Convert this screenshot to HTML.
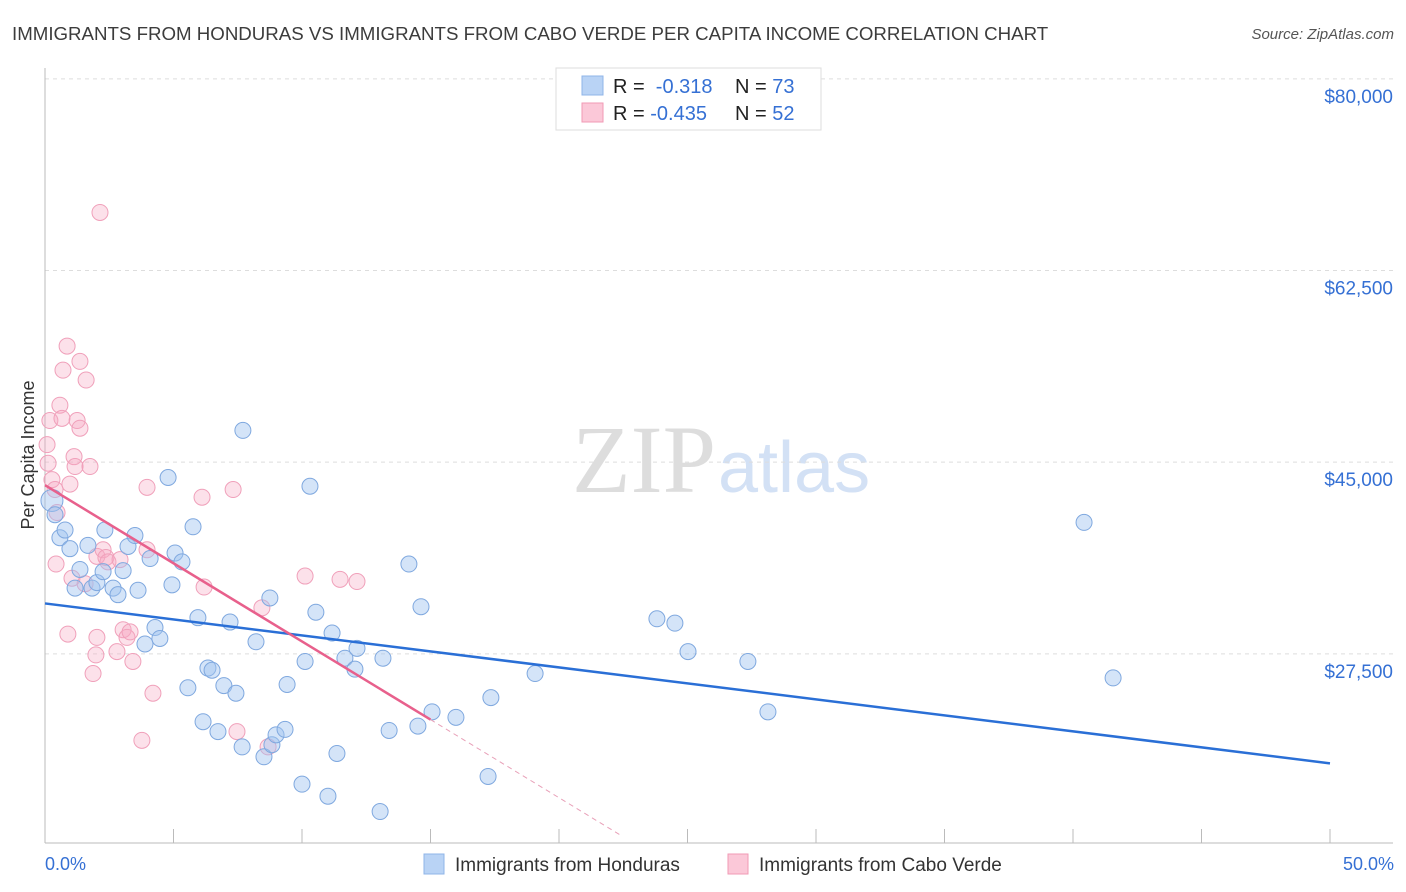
<!DOCTYPE html>
<html><head><meta charset="utf-8"><style>
body{margin:0;background:#fff;font-family:"Liberation Sans",sans-serif;}
svg{display:block}
</style></head><body>
<svg id="c" width="1406" height="892">
<text x="12" y="40" font-size="18.7" fill="#3c3c3c">IMMIGRANTS FROM HONDURAS VS IMMIGRANTS FROM CABO VERDE PER CAPITA INCOME CORRELATION CHART</text>
<text x="1394" y="39" font-size="15" fill="#555" font-style="italic" text-anchor="end">Source: ZipAtlas.com</text>
<text x="716" y="492" font-size="96" fill="#ddd" text-anchor="end" font-family="Liberation Serif,serif">ZIP</text>
<text x="718" y="492" font-size="72" fill="#d3e1f5">atlas</text>
<text transform="translate(34,455) rotate(-90)" font-size="18" fill="#333" text-anchor="middle">Per Capita Income</text>
<g id="grid"></g><g id="pts"></g><g id="lines"></g>
<g>
<rect x="556" y="68" width="265" height="62" fill="#fff" stroke="#ddd"/>
<rect x="582" y="76" width="21" height="19" fill="#b9d3f5" stroke="#8fb4e8"/>
<rect x="582" y="103" width="21" height="19" fill="#fbc8d8" stroke="#f09ab5"/>
<text x="613" y="93" font-size="20" fill="#222">R = <tspan fill="#3570d4">&#160;-0.318</tspan><tspan x="735">N = </tspan><tspan fill="#3570d4">73</tspan></text>
<text x="613" y="120" font-size="20" fill="#222">R = <tspan fill="#3570d4">-0.435</tspan><tspan x="735">N = </tspan><tspan fill="#3570d4">52</tspan></text>
</g>
<g>
<rect x="424" y="854" width="20" height="20" fill="#b9d3f5" stroke="#8fb4e8"/>
<text x="455" y="871" font-size="19" fill="#333">Immigrants from Honduras</text>
<rect x="728" y="854" width="20" height="20" fill="#fbc8d8" stroke="#f09ab5"/>
<text x="759" y="871" font-size="19" fill="#333">Immigrants from Cabo Verde</text>
</g>
<text x="45" y="870" font-size="18" fill="#3570d4">0.0%</text>
<text x="1394" y="870" font-size="18" fill="#3570d4" text-anchor="end">50.0%</text>
</svg>
<script>
const yTicks=[27500,45000,62500,80000];
const yTickLabels=["$27,500","$45,000","$62,500","$80,000"];
const xTicks=[0,5,10,15,20,25,30,35,40,45,50];
const blueX=[0.27,0.39,0.58,0.78,0.97,1.36,1.17,1.67,1.83,2.02,2.26,2.33,2.65,2.84,3.04,3.23,3.5,3.62,3.89,4.09,4.28,4.47,4.79,4.94,5.06,5.33,5.56,5.76,5.95,6.15,6.34,6.5,6.73,6.96,7.2,7.43,7.67,7.7,8.21,8.52,8.75,8.83,8.99,9.34,9.42,10.0,10.31,10.54,10.12,11.01,11.17,11.36,11.67,12.06,12.14,13.04,13.15,13.39,14.16,14.51,14.63,15.06,15.99,17.24,17.35,19.07,23.81,24.51,25.02,27.35,28.13,40.43,41.56];
const blueY=[41.5,40.2,38.1,38.8,37.1,35.2,33.5,37.4,33.5,34.0,35.0,38.8,33.5,32.9,35.1,37.3,38.3,33.3,28.4,36.2,29.9,28.9,43.6,33.8,36.7,35.9,24.4,39.1,30.8,21.3,26.2,26.0,20.4,24.6,30.4,23.9,19.0,47.9,28.6,18.1,32.6,19.2,20.1,20.6,24.7,15.6,42.8,31.3,26.8,14.5,29.4,18.4,27.1,26.1,28.0,13.1,27.1,20.5,35.7,20.9,31.8,22.2,21.7,16.3,23.5,25.7,30.7,30.3,27.7,26.8,22.2,39.5,25.3];
const pinkX=[0.08,0.12,0.19,0.27,0.39,0.47,0.43,0.58,0.66,0.7,0.86,0.89,0.97,1.05,1.13,1.17,1.25,1.36,1.36,1.56,1.6,1.75,1.87,1.98,2.02,2.02,2.14,2.26,2.37,2.45,2.8,3.04,3.19,3.31,3.42,3.77,3.97,3.97,4.2,6.11,6.19,7.32,7.47,8.44,8.68,10.12,11.48,12.14,2.92];
const pinkY=[46.6,44.9,48.8,43.4,42.5,40.4,35.7,50.2,49.0,53.4,55.6,29.3,43.0,34.4,45.5,44.6,48.8,48.1,54.2,33.9,52.5,44.6,25.7,27.4,29.0,36.4,67.8,37.0,36.3,35.9,27.7,29.7,29.0,29.5,26.8,19.6,42.7,37.0,23.9,41.8,33.6,42.5,20.4,31.7,19.0,34.6,34.3,34.1,36.1];
const blueTrend=[32.1,17.5];
const pinkTrend=[42.9,-1.427];
const X=v=>45+v*25.7, Y=k=>955-k*10.952;
const NS="http://www.w3.org/2000/svg";
function mk(p,t,a){const e=document.createElementNS(NS,t);for(const k in a)e.setAttribute(k,a[k]);p.appendChild(e);return e;}
const grid=document.getElementById('grid');
yTicks.forEach((v,i)=>{
 const l=mk(grid,'line',{x1:45,x2:1393,y1:Y(v/1000),y2:Y(v/1000),stroke:'#ddd','stroke-dasharray':'4,4'});
 
 
 const t=mk(grid,'text',{x:1393,y:Y(v/1000)+24,'font-size':19,fill:'#3570d4','text-anchor':'end'});
 t.textContent=yTickLabels[i];
 
 
});
const ax=mk(grid,'line',{x1:45,x2:45,y1:68,y2:843,stroke:'#bbb'});


const bx=mk(grid,'line',{x1:45,x2:1393,y1:843,y2:843,stroke:'#bbb'});


xTicks.forEach(v=>{
 const t=mk(grid,'line',{x1:X(v),x2:X(v),y1:829,y2:843,stroke:'#bbb'});
 
 
});
const pts=document.getElementById('pts');
pinkX.forEach((x,i)=>{
 const c=mk(pts,'circle',{cx:X(x),cy:Y(pinkY[i]),r:8,fill:'rgba(246,168,194,0.35)',stroke:'#f0a0ba','stroke-width':1});
 
 
});
blueX.forEach((x,i)=>{
 const c=mk(pts,'circle',{cx:X(x),cy:Y(blueY[i]),r:i==0?11:8,fill:'rgba(160,196,240,0.45)',stroke:'#7fa8df','stroke-width':1});
 
 
});
const lines=document.getElementById('lines');
const bl=mk(lines,'line',{x1:X(0),y1:Y(blueTrend[0]),x2:X(50),y2:Y(blueTrend[1]),stroke:'#2a6fd6','stroke-width':2.5});


const pf=x=>pinkTrend[0]+pinkTrend[1]*x;
const pl=mk(lines,'line',{x1:X(0),y1:Y(pf(0)),x2:X(15),y2:Y(pf(15)),stroke:'#e8608c','stroke-width':2.5});


const pd=mk(lines,'line',{x1:X(15),y1:Y(pf(15)),x2:X(22.4),y2:Y(pf(22.4)),stroke:'#e8a0b8','stroke-width':1,'stroke-dasharray':'5,4'});


</script>
</body></html>
